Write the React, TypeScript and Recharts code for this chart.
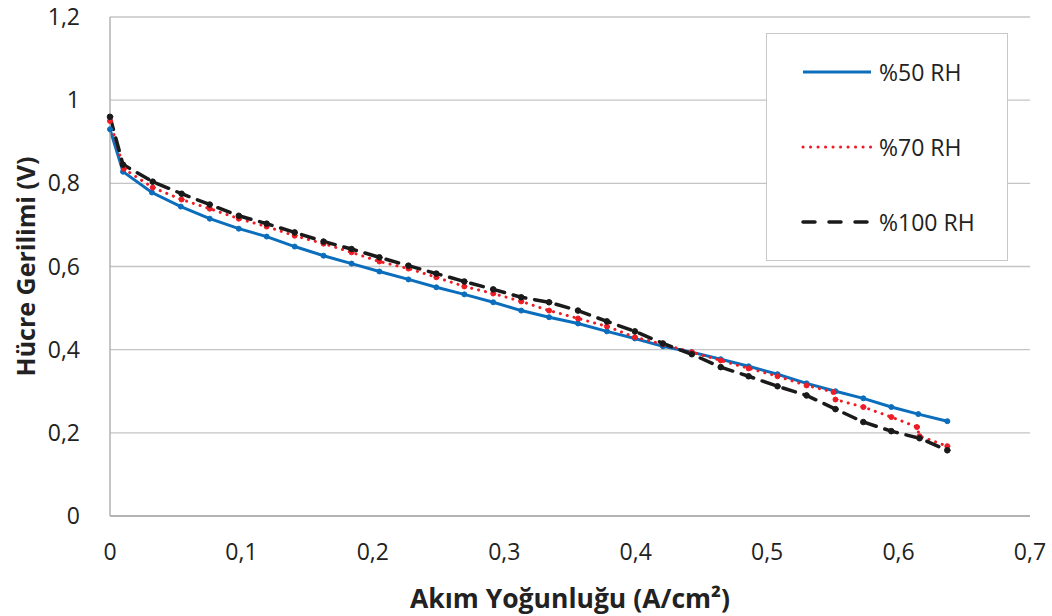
import { CartesianGrid, Line, LineChart, XAxis, YAxis } from 'recharts'

const current50 = [0, 0.0099, 0.0319, 0.0539, 0.0759, 0.098, 0.1192, 0.1405, 0.1625, 0.1838, 0.205, 0.2271, 0.2483, 0.2696, 0.2916, 0.3129, 0.3341, 0.3561, 0.3781, 0.3994, 0.4207, 0.4427, 0.4647, 0.4859, 0.5079, 0.53, 0.552, 0.5732, 0.5945, 0.615, 0.6371]
const voltage50 = [0.93, 0.828, 0.778, 0.744, 0.715, 0.691, 0.672, 0.648, 0.626, 0.607, 0.588, 0.569, 0.55, 0.533, 0.514, 0.494, 0.478, 0.463, 0.444, 0.427, 0.408, 0.394, 0.377, 0.36, 0.341, 0.319, 0.3, 0.283, 0.262, 0.245, 0.228]

const current70 = [0, 0.0105, 0.0325, 0.0545, 0.0759, 0.098, 0.1192, 0.1405, 0.1625, 0.1838, 0.205, 0.2271, 0.2483, 0.2696, 0.2916, 0.3129, 0.3341, 0.3561, 0.3781, 0.3994, 0.4207, 0.4427, 0.4647, 0.4859, 0.5079, 0.53, 0.5505, 0.552, 0.5732, 0.5945, 0.614, 0.616, 0.6371]
const voltage70 = [0.95, 0.835, 0.79, 0.761, 0.739, 0.715, 0.696, 0.674, 0.655, 0.634, 0.612, 0.595, 0.574, 0.552, 0.535, 0.516, 0.494, 0.475, 0.456, 0.43, 0.413, 0.394, 0.374, 0.355, 0.336, 0.314, 0.298, 0.28, 0.262, 0.238, 0.214, 0.192, 0.168]

const current100 = [0, 0.0099, 0.0325, 0.0545, 0.0759, 0.098, 0.1192, 0.1405, 0.1625, 0.1838, 0.205, 0.2271, 0.2483, 0.2696, 0.2916, 0.3129, 0.3341, 0.3561, 0.3781, 0.3994, 0.4207, 0.4427, 0.4647, 0.4859, 0.5079, 0.53, 0.552, 0.5732, 0.5945, 0.616, 0.6371]
const voltage100 = [0.96, 0.845, 0.804, 0.775, 0.749, 0.722, 0.703, 0.682, 0.66, 0.642, 0.622, 0.602, 0.583, 0.564, 0.545, 0.526, 0.514, 0.494, 0.468, 0.444, 0.415, 0.389, 0.358, 0.336, 0.312, 0.29, 0.257, 0.226, 0.204, 0.187, 0.158]

const xTicks = [0, 0.1, 0.2, 0.3, 0.4, 0.5, 0.6, 0.7]
const yTicks = [0, 0.2, 0.4, 0.6, 0.8, 1, 1.2]

const seriesNames = ['%50 RH', '%70 RH', '%100 RH']

const toPoints = (xs: number[], ys: number[]) => xs.map((x, i) => ({ x, v: ys[i] }))

const rh50 = toPoints(current50, voltage50)
const rh70 = toPoints(current70, voltage70)
const rh100 = toPoints(current100, voltage100)

const font = '"Open Sans", sans-serif'
const fmt = (n: number) => String(n).replace('.', ',')

const BLUE = '#0a6ebd'
const RED = '#ee1c25'
const BLACK = '#1a1a1a'

// legend drawn by hand, excel-style box in the top right of the plot
function LegendBox() {
  const rows = [
    { name: seriesNames[0], color: BLUE, dash: undefined, width: 3, cap: 'butt' },
    { name: seriesNames[1], color: RED, dash: '0.1 7.4', width: 3, cap: 'round' },
    { name: seriesNames[2], color: BLACK, dash: '12 14', width: 3.5, cap: 'round' }
  ]
  return (
    <div
      style={{
        position: 'absolute',
        left: 766,
        top: 33,
        width: 242,
        height: 228,
        border: '1.5px solid #c8c8c8',
        background: '#fff',
        boxSizing: 'border-box',
        fontFamily: font
      }}
    >
      {rows.map((r, i) => (
        <div key={r.name} style={{ position: 'absolute', left: 34, top: 22 + i * 75, display: 'flex', alignItems: 'center' }}>
          <svg width={72} height={30}>
            <line
              x1={2}
              y1={15}
              x2={70}
              y2={15}
              stroke={r.color}
              strokeWidth={r.width}
              strokeDasharray={r.dash}
              strokeLinecap={r.cap as 'round' | 'butt'}
            />
          </svg>
          <span style={{ marginLeft: 6, fontSize: 23, color: '#222' }}>{r.name}</span>
        </div>
      ))}
    </div>
  )
}

export default function App() {
  return (
    <div style={{ position: 'absolute', left: 0, top: 0, width: 1052, height: 616, background: '#fff' }}>
      <LineChart width={1052} height={616} margin={{ top: 17, right: 22, bottom: 0, left: 0 }}>
        <CartesianGrid vertical={false} stroke="#c4c4c4" strokeWidth={1.3} />
        <XAxis
          type="number"
          dataKey="x"
          domain={[0, 0.7]}
          ticks={xTicks}
          tickFormatter={fmt}
          height={100}
          tickLine={false}
          axisLine={{ stroke: '#a8a8a8', strokeWidth: 1.3 }}
          tickMargin={22}
          tick={{ fill: '#222', fontSize: 23, fontFamily: font }}
          label={{
            value: 'Akım Yoğunluğu (A/cm²)',
            position: 'insideBottom',
            offset: 8,
            style: { fill: '#222', fontSize: 26.5, fontWeight: 700, fontFamily: font }
          }}
        />
        <YAxis
          type="number"
          dataKey="v"
          domain={[0, 1.2]}
          ticks={yTicks}
          tickFormatter={fmt}
          width={110}
          tickLine={false}
          axisLine={{ stroke: '#a8a8a8', strokeWidth: 1.3 }}
          tickMargin={24}
          tick={{ fill: '#222', fontSize: 23, fontFamily: font }}
          label={{
            value: 'Hücre Gerilimi (V)',
            angle: -90,
            position: 'insideLeft',
            offset: 26,
            style: { fill: '#222', fontSize: 25, fontWeight: 700, fontFamily: font, textAnchor: 'middle' }
          }}
        />
        <Line
          data={rh50}
          dataKey="v"
          name={seriesNames[0]}
          stroke={BLUE}
          strokeWidth={3}
          dot={{ r: 2.5, fill: BLUE, stroke: BLUE, strokeWidth: 1 }}
          isAnimationActive={false}
        />
        <Line
          data={rh70}
          dataKey="v"
          name={seriesNames[1]}
          stroke={RED}
          strokeWidth={3}
          strokeDasharray="0.1 7"
          strokeLinecap="round"
          dot={{ r: 2.5, fill: RED, stroke: RED, strokeWidth: 1, strokeDasharray: '' }}
          isAnimationActive={false}
        />
        <Line
          data={rh100}
          dataKey="v"
          name={seriesNames[2]}
          stroke={BLACK}
          strokeWidth={3.5}
          strokeDasharray="13 9"
          strokeLinecap="round"
          dot={{ r: 2.8, fill: BLACK, stroke: BLACK, strokeWidth: 1, strokeDasharray: '' }}
          isAnimationActive={false}
        />
      </LineChart>
      <LegendBox />
    </div>
  )
}
